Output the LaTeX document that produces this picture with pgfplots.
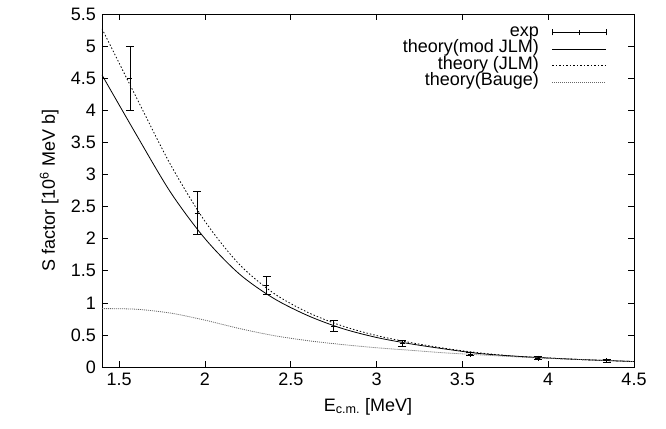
\documentclass[border=0pt]{standalone}
\usepackage{pgfplots}
\pgfplotsset{compat=1.18}
\usepackage{fontspec}
\setmainfont{Liberation Sans}
\pgfplotsset{
 linelegend/.style={legend image code/.code={\draw[##1] (0pt,0pt)--(54pt,0pt);}},
 explegend/.style={legend image code/.code={
  \draw[black, line width=0.6pt] (0pt,0pt)--(54pt,0pt);
  \draw[black, line width=0.6pt] (0pt,-3pt)--(0pt,3pt);
  \draw[black, line width=0.6pt] (54pt,-3pt)--(54pt,3pt);
  \draw[black, line width=0.6pt] (27pt,-2.5pt)--(27pt,2.5pt);}},
}
\pgfplotstableread{
x y e
1.563 4.50 0.50
1.955 2.40 0.33
2.36 1.28 0.14
2.75 0.64 0.09
3.15 0.37 0.05
3.545 0.20 0.025
3.94 0.14 0.02
4.34 0.10 0.02
}\expdata
\pgfplotstableread{
x y
1.4 4.55
1.6 3.62
1.8 2.72
2.0 2.00
2.2 1.45
2.4 1.07
2.6 0.80
2.8 0.60
3.0 0.46
3.2 0.36
3.4 0.28
3.6 0.21
3.8 0.17
4.0 0.14
4.2 0.115
4.4 0.095
4.5 0.085
}\modjlm
\pgfplotstableread{
x y
1.4 5.27
1.6 4.20
1.8 3.15
2.0 2.27
2.2 1.60
2.4 1.15
2.6 0.85
2.8 0.64
3.0 0.49
3.2 0.38
3.4 0.29
3.6 0.22
3.8 0.17
4.0 0.14
4.2 0.115
4.4 0.095
4.5 0.085
}\jlm
\pgfplotstableread{
x y
1.4 0.91
1.6 0.90
1.8 0.84
2.0 0.73
2.2 0.60
2.4 0.49
2.6 0.41
2.8 0.35
3.0 0.30
3.2 0.26
3.4 0.22
3.6 0.19
3.8 0.16
4.0 0.135
4.2 0.115
4.4 0.095
4.5 0.085
}\bauge
\begin{document}
\fontsize{18}{20}\selectfont
\begin{tikzpicture}
\begin{axis}[
 scale only axis, width=532pt, height=353pt,
 xmin=1.4, xmax=4.5, ymin=0, ymax=5.5,
 xtick={1.5,2,2.5,3,3.5,4,4.5},
 ytick={0,0.5,1,1.5,2,2.5,3,3.5,4,4.5,5,5.5},
 /pgf/number format/assume math mode=true,
 tick label style={font=\fontsize{18}{20}\selectfont},
 label style={font=\fontsize{18}{20}\selectfont},
 tick align=inside, major tick length=6pt,
 axis line style={line width=0.9pt},
 tick style={line width=0.6pt, black},
 xlabel={E\textsubscript{c.m.} [MeV]},
 ylabel={S factor [10\textsuperscript{6} MeV b]},
 legend style={draw=none, fill=none, at={(1,1)}, anchor=north east, xshift=-24pt, yshift=-8pt,
   font=\fontsize{18}{20}\selectfont, column sep=13pt, row sep=0pt,
   nodes={inner sep=0pt, text height=12pt, text depth=4.5pt}},
 legend cell align=right, legend plot pos=right,
]
\addplot[black, line width=0.6pt, mark=+, mark size=2.5pt, only marks, explegend,
  error bars/.cd, y dir=both, y explicit, error mark=-,
  error mark options={black, rotate=90, mark size=4pt, line width=0.6pt},
  error bar style={line width=0.6pt},
  ] table[x=x, y=y, y error=e] {\expdata};
\addplot[black, line width=0.8pt, smooth, linelegend] table {\modjlm};
\addplot[black, line width=0.8pt, smooth, dash pattern=on 1.5pt off 2pt, linelegend] table {\jlm};
\addplot[black!60, line width=0.8pt, smooth, dash pattern=on 1pt off 1pt, linelegend] table {\bauge};
\legend{exp,theory(mod JLM),theory (JLM),theory(Bauge)}
\end{axis}
\path (current axis.south west) ++(-102pt,-61pt) (current axis.north east) ++(32pt,14pt);
\end{tikzpicture}
\end{document}
